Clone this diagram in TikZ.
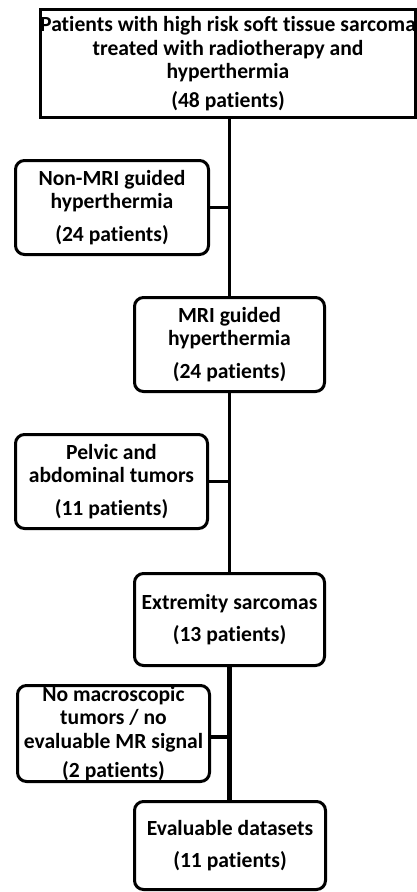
\documentclass[tikz,border=0pt]{standalone}
\usepackage{fontspec}
\setmainfont{Carlito}[Ligatures=NoCommon]
\usetikzlibrary{positioning}
\tikzset{
  box/.style={draw, line width=3pt, align=center, inner sep=0pt,
    font=\bfseries\fontsize{21.6}{23.5}\selectfont},
  plainbox/.style={box, minimum width=373pt, minimum height=108pt},
  roundbox/.style={box, rounded corners=9pt, minimum width=191pt, minimum height=94pt},
  link/.style={line width=3pt},
  heavylink/.style={line width=5pt}
}
\begin{document}
\begin{tikzpicture}[x=1pt,y=-1pt]
  \useasboundingbox (0,0) rectangle (417,892);
  % boxes
  \node[plainbox] (cohort) at (228,63.5)
    {Patients with high risk soft tissue sarcoma\\treated with radiotherapy and\\hyperthermia\\[5pt](48 patients)};
  \node[roundbox, minimum width=193pt] (nonmri) at (112,207.5)
    {Non-MRI guided\\hyperthermia\\[9pt](24 patients)};
  \node[roundbox, minimum width=190pt] (mri) at (229.5,344.5)
    {MRI guided\\hyperthermia\\[9pt](24 patients)};
  \node[roundbox, minimum width=192pt] (pelvic) at (111.5,481.5)
    {Pelvic and\\abdominal tumors\\[9pt](11 patients)};
  \node[roundbox, minimum width=190pt, minimum height=92pt] (extrem) at (229.5,619.5)
    {Extremity sarcomas\\[9pt](13 patients)};
  \node[roundbox, minimum width=192pt, minimum height=96pt] (nomacro) at (113.5,733.5)
    {No macroscopic\\tumors / no\\evaluable MR signal\\[6pt](2 patients)};
  \node[roundbox, minimum width=191pt, minimum height=88pt] (evalset) at (230,845.5)
    {Evaluable datasets\\[9pt](11 patients)};
  % connectors
  \draw[link] (mri.north |- cohort.south) -- (mri.north);
  \draw[link] (mri.south) -- (extrem.north);
  \draw[heavylink] (extrem.south) -- (extrem.south |- evalset.north);
  \draw[link] (nonmri.east) -- (nonmri.east -| mri.north);
  \draw[link] (pelvic.east) -- (pelvic.east -| mri.north);
  \draw[line width=4pt] ([yshift=-3pt]nomacro.east) -- ([yshift=-3pt]nomacro.east -| extrem.south);
\end{tikzpicture}
\end{document}
